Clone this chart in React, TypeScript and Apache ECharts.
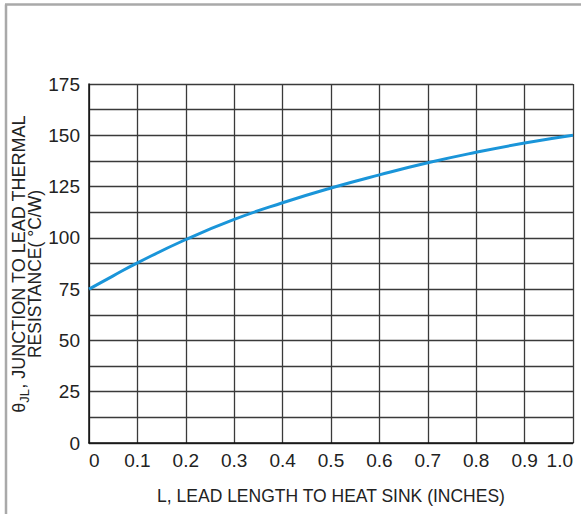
import React, { useEffect, useRef } from "react";
import * as echarts from "echarts";

const leadLength = [0, 0.05, 0.1, 0.2, 0.3, 0.4, 0.5, 0.6, 0.7, 0.8, 0.9, 1.0];
const thermalResistance = [75, 81.5, 87.8, 99.2, 109, 117.1, 124.3, 130.7, 136.6, 141.7, 146.2, 150];
const yTickLabels = [0, 25, 50, 75, 100, 125, 150, 175];
const xTitle = "L, LEAD LENGTH TO HEAT SINK (INCHES)";
const yTitleLine1 = "JUNCTION TO LEAD THERMAL";
const yTitleLine2 = "RESISTANCE( °C/W)";

const FONT = "'Liberation Sans', Arial, sans-serif";
const TXT = "#222";
const GRID = "#3a3a3a";

export default function App() {
  const ref = useRef<HTMLDivElement>(null);
  useEffect(() => {
    document.body.style.margin = "0";
    if (!ref.current) return;
    const chart = echarts.init(ref.current, undefined, { renderer: "svg" });
    const data = leadLength.map((x, i) => [x, thermalResistance[i]]);
    chart.setOption({
      animation: false,
      backgroundColor: "#fff",
      textStyle: { fontFamily: FONT },
      grid: { left: 89, right: 8, top: 84, bottom: 71 },
      xAxis: {
        type: "value",
        min: 0,
        max: 1,
        interval: 0.1,
        name: xTitle,
        nameLocation: "middle",
        nameGap: 44,
        nameTextStyle: { fontSize: 17.5, color: TXT, fontFamily: FONT },
        axisLine: { show: true, lineStyle: { color: "#111", width: 1.5 } },
        axisTick: { show: false },
        axisLabel: {
          fontSize: 19,
          color: TXT,
          margin: 8,
          fontFamily: FONT,
          alignMinLabel: "left",
          alignMaxLabel: "right",
          formatter: (v: number) => (Math.abs(v) < 1e-9 ? "0" : v.toFixed(1)),
        },
        splitLine: { show: true, lineStyle: { color: GRID, width: 1.3 } },
      },
      yAxis: {
        type: "value",
        min: 0,
        max: 175,
        interval: 12.5,
        axisLine: { show: true, lineStyle: { color: "#111", width: 1.5 } },
        axisTick: { show: false },
        axisLabel: {
          fontSize: 19,
          color: TXT,
          margin: 9,
          fontFamily: FONT,
          formatter: (v: number) => (yTickLabels.includes(v) ? String(v) : ""),
        },
        splitLine: { show: true, lineStyle: { color: GRID, width: 1.3 } },
      },
      graphic: [
        {
          type: "line",
          shape: { x1: 6, y1: 4.5, x2: 6, y2: 520 },
          style: { stroke: "#a9a9a9", lineWidth: 2.5 },
        },
        {
          type: "line",
          shape: { x1: 5, y1: 4.5, x2: 590, y2: 4.5 },
          style: { stroke: "#a9a9a9", lineWidth: 2.5 },
        },
        {
          type: "text",
          x: 19,
          y: 264,
          rotation: Math.PI / 2,
          style: {
            text: "{a|θ}{s|JL}{a|, " + yTitleLine1 + "}",
            align: "center",
            verticalAlign: "middle",
            fill: TXT,
            rich: {
              a: { fontSize: 18, lineHeight: 24, fill: TXT, fontFamily: FONT },
              s: { fontSize: 13, lineHeight: 14, verticalAlign: "bottom", fill: TXT, fontFamily: FONT },
            },
          },
        },
        {
          type: "text",
          x: 35,
          y: 274,
          rotation: Math.PI / 2,
          style: {
            text: yTitleLine2,
            align: "center",
            verticalAlign: "middle",
            fill: TXT,
            fontSize: 17.5,
            fontFamily: FONT,
          },
        },
      ],
      series: [
        {
          type: "line",
          data,
          smooth: 0.5,
          showSymbol: false,
          lineStyle: { color: "#1a95d9", width: 3 },
        },
      ],
    });
    return () => chart.dispose();
  }, []);
  return <div ref={ref} style={{ width: 581, height: 514 }} />;
}
